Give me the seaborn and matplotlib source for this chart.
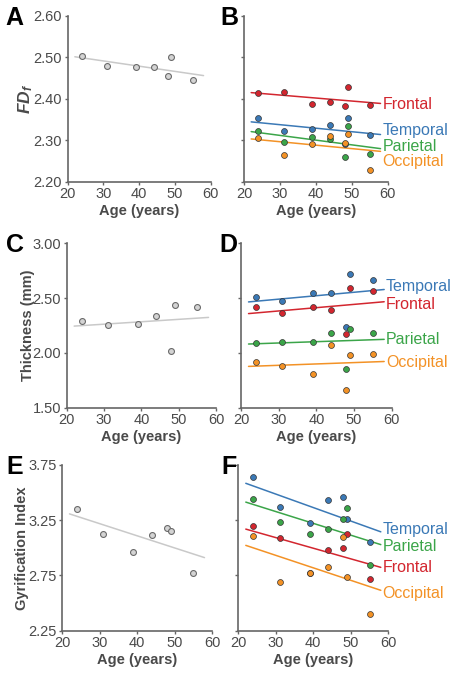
import numpy as np
import pandas as pd
import matplotlib
matplotlib.use("Agg")
import matplotlib.pyplot as plt
import seaborn as sns

sns.set_theme(style="ticks")
plt.rcParams['font.family'] = ['Liberation Sans', 'DejaVu Sans']
plt.rcParams['mathtext.fontset'] = 'custom'
plt.rcParams['mathtext.it'] = 'Liberation Sans:italic:bold'
plt.rcParams['mathtext.rm'] = 'Liberation Sans:bold'

# ---------------- data ----------------
ages = [24, 31, 39, 44, 48, 49, 55]

fd_total = [2.504, 2.479, 2.476, 2.477, 2.455, 2.500, 2.445]
fd_frontal = [2.413, 2.417, 2.388, 2.391, 2.382, 2.429, 2.384]
fd_temporal = [2.353, 2.321, 2.327, 2.337, 2.290, 2.353, 2.313]
fd_parietal = [2.323, 2.295, 2.308, 2.302, 2.260, 2.335, 2.267]
fd_occipital = [2.306, 2.264, 2.292, 2.309, 2.294, 2.315, 2.228]

th_total = [2.288, 2.255, 2.267, 2.337, 2.014, 2.434, 2.416]
th_temporal = [2.512, 2.470, 2.542, 2.542, 2.236, 2.721, 2.661]
th_frontal = [2.421, 2.364, 2.415, 2.391, 2.173, 2.591, 2.564]
th_parietal = [2.088, 2.100, 2.100, 2.182, 1.855, 2.221, 2.182]
th_occipital = [1.915, 1.882, 1.806, 2.070, 1.658, 1.985, 1.991]

gi_total = [3.352, 3.125, 2.962, 3.116, 3.177, 3.150, 2.775]
gi_temporal = [3.638, 3.367, 3.222, 3.430, 3.457, 3.264, 3.053]
gi_parietal = [3.439, 3.237, 3.122, 3.174, 3.264, 3.364, 2.845]
gi_frontal = [3.198, 3.092, 2.770, 2.981, 2.996, 3.128, 2.715]
gi_occipital = [3.107, 2.688, 2.769, 2.827, 3.095, 2.733, 2.401]

x_ticks = [20, 30, 40, 50, 60]
fd_ticks = [2.20, 2.30, 2.40, 2.50, 2.60]
th_ticks = [1.50, 2.00, 2.50, 3.00]
gi_ticks = [2.25, 2.75, 3.25, 3.75]

colors = {"Frontal": "#d3262f", "Temporal": "#3b79b6",
          "Parietal": "#3ba549", "Occipital": "#f39226"}

# label y positions (annotation layout)
lab_B = {"Frontal": 2.387, "Temporal": 2.323, "Parietal": 2.284, "Occipital": 2.248}
lab_D = {"Temporal": 2.606, "Frontal": 2.439, "Parietal": 2.121, "Occipital": 1.909}
lab_F = {"Temporal": 3.162, "Parietal": 3.011, "Frontal": 2.821, "Occipital": 2.588}

W, H = 459, 675
fig = plt.figure(figsize=(W / 100, H / 100), dpi=100)

def rect(x0, x1, y0, y1):
    return [x0 / W, 1 - y1 / H, (x1 - x0) / W, (y1 - y0) / H]

axA = fig.add_axes(rect(67.7, 210.7, 15.7, 181.7))
axB = fig.add_axes(rect(244, 387.7, 15.7, 181.7))
axC = fig.add_axes(rect(66.7, 216, 243.3, 407.7))
axD = fig.add_axes(rect(241, 391.7, 243.3, 407.7))
axE = fig.add_axes(rect(62, 212, 465, 630.7))
axF = fig.add_axes(rect(238.3, 388.3, 465, 630.7))

spine_c = "#666666"
tick_c = "#4a4a4a"

def style(ax, yticks, ylim, show_ylabels=True):
    for s in ["top", "right"]:
        ax.spines[s].set_visible(False)
    for s in ["left", "bottom"]:
        ax.spines[s].set_color(spine_c)
        ax.spines[s].set_linewidth(1.2)
    ax.set_xlim(20, 60)
    ax.set_ylim(*ylim)
    ax.set_xticks(x_ticks)
    ax.set_yticks(yticks)
    ax.set_yticklabels([f"{t:.2f}" for t in yticks] if show_ylabels else [])
    ax.tick_params(axis="both", length=2.5, width=1, color=spine_c,
                   labelsize=10.5, labelcolor=tick_c, pad=1.5)
    ax.set_xlabel("Age (years)", fontsize=10.5, fontweight="bold", color=tick_c, labelpad=2)

def fit_line(ax, y, color):
    ax.set_xlim(22, 58)
    sns.regplot(x=ages, y=y, ax=ax, scatter=False, ci=None, truncate=False,
                line_kws=dict(color=color, lw=1.1))

def single(ax, y, yticks, ylabel, fs, pad):
    fit_line(ax, y, "#c9c9c9")
    sns.scatterplot(x=ages, y=y, ax=ax, s=18, color="#d4d4d4",
                    edgecolor="#6a6a6a", linewidth=0.8, zorder=3)
    style(ax, yticks, (yticks[0], yticks[-1]))
    ax.set_ylabel(ylabel, fontsize=fs, fontweight="bold", color=tick_c, labelpad=pad)

def multi(ax, series, yticks, labels):
    for name, y in series.items():
        fit_line(ax, y, colors[name])
    for name, y in series.items():
        sns.scatterplot(x=ages, y=y, ax=ax, s=18, color=colors[name],
                        edgecolor="#333333", linewidth=0.5, zorder=3)
    style(ax, yticks, (yticks[0], yticks[-1]), show_ylabels=False)
    ax.set_ylabel("")
    for name, ly in labels.items():
        ax.text(58.5, ly, name, color=colors[name], fontsize=11.5,
                ha="left", va="center", clip_on=False)

single(axA, fd_total, fd_ticks, r"$FD_f$", 12.5, -1)
multi(axB, {"Frontal": fd_frontal, "Temporal": fd_temporal,
            "Parietal": fd_parietal, "Occipital": fd_occipital}, fd_ticks, lab_B)
single(axC, th_total, th_ticks, "Thickness (mm)", 10.5, -2)
multi(axD, {"Temporal": th_temporal, "Frontal": th_frontal,
            "Parietal": th_parietal, "Occipital": th_occipital}, th_ticks, lab_D)
single(axE, gi_total, gi_ticks, "Gyrification Index", 10.5, -1)
multi(axF, {"Temporal": gi_temporal, "Parietal": gi_parietal,
            "Frontal": gi_frontal, "Occipital": gi_occipital}, gi_ticks, lab_F)

for letter, (px, py) in {"A": (14, 18), "B": (229, 18), "C": (15, 245),
                         "D": (228, 245), "E": (15, 467), "F": (229, 467)}.items():
    fig.text(px / W, 1 - py / H, letter, fontsize=18, fontweight="heavy",
             color="black", ha="center", va="center")

fig.savefig("out.png", dpi=100)
